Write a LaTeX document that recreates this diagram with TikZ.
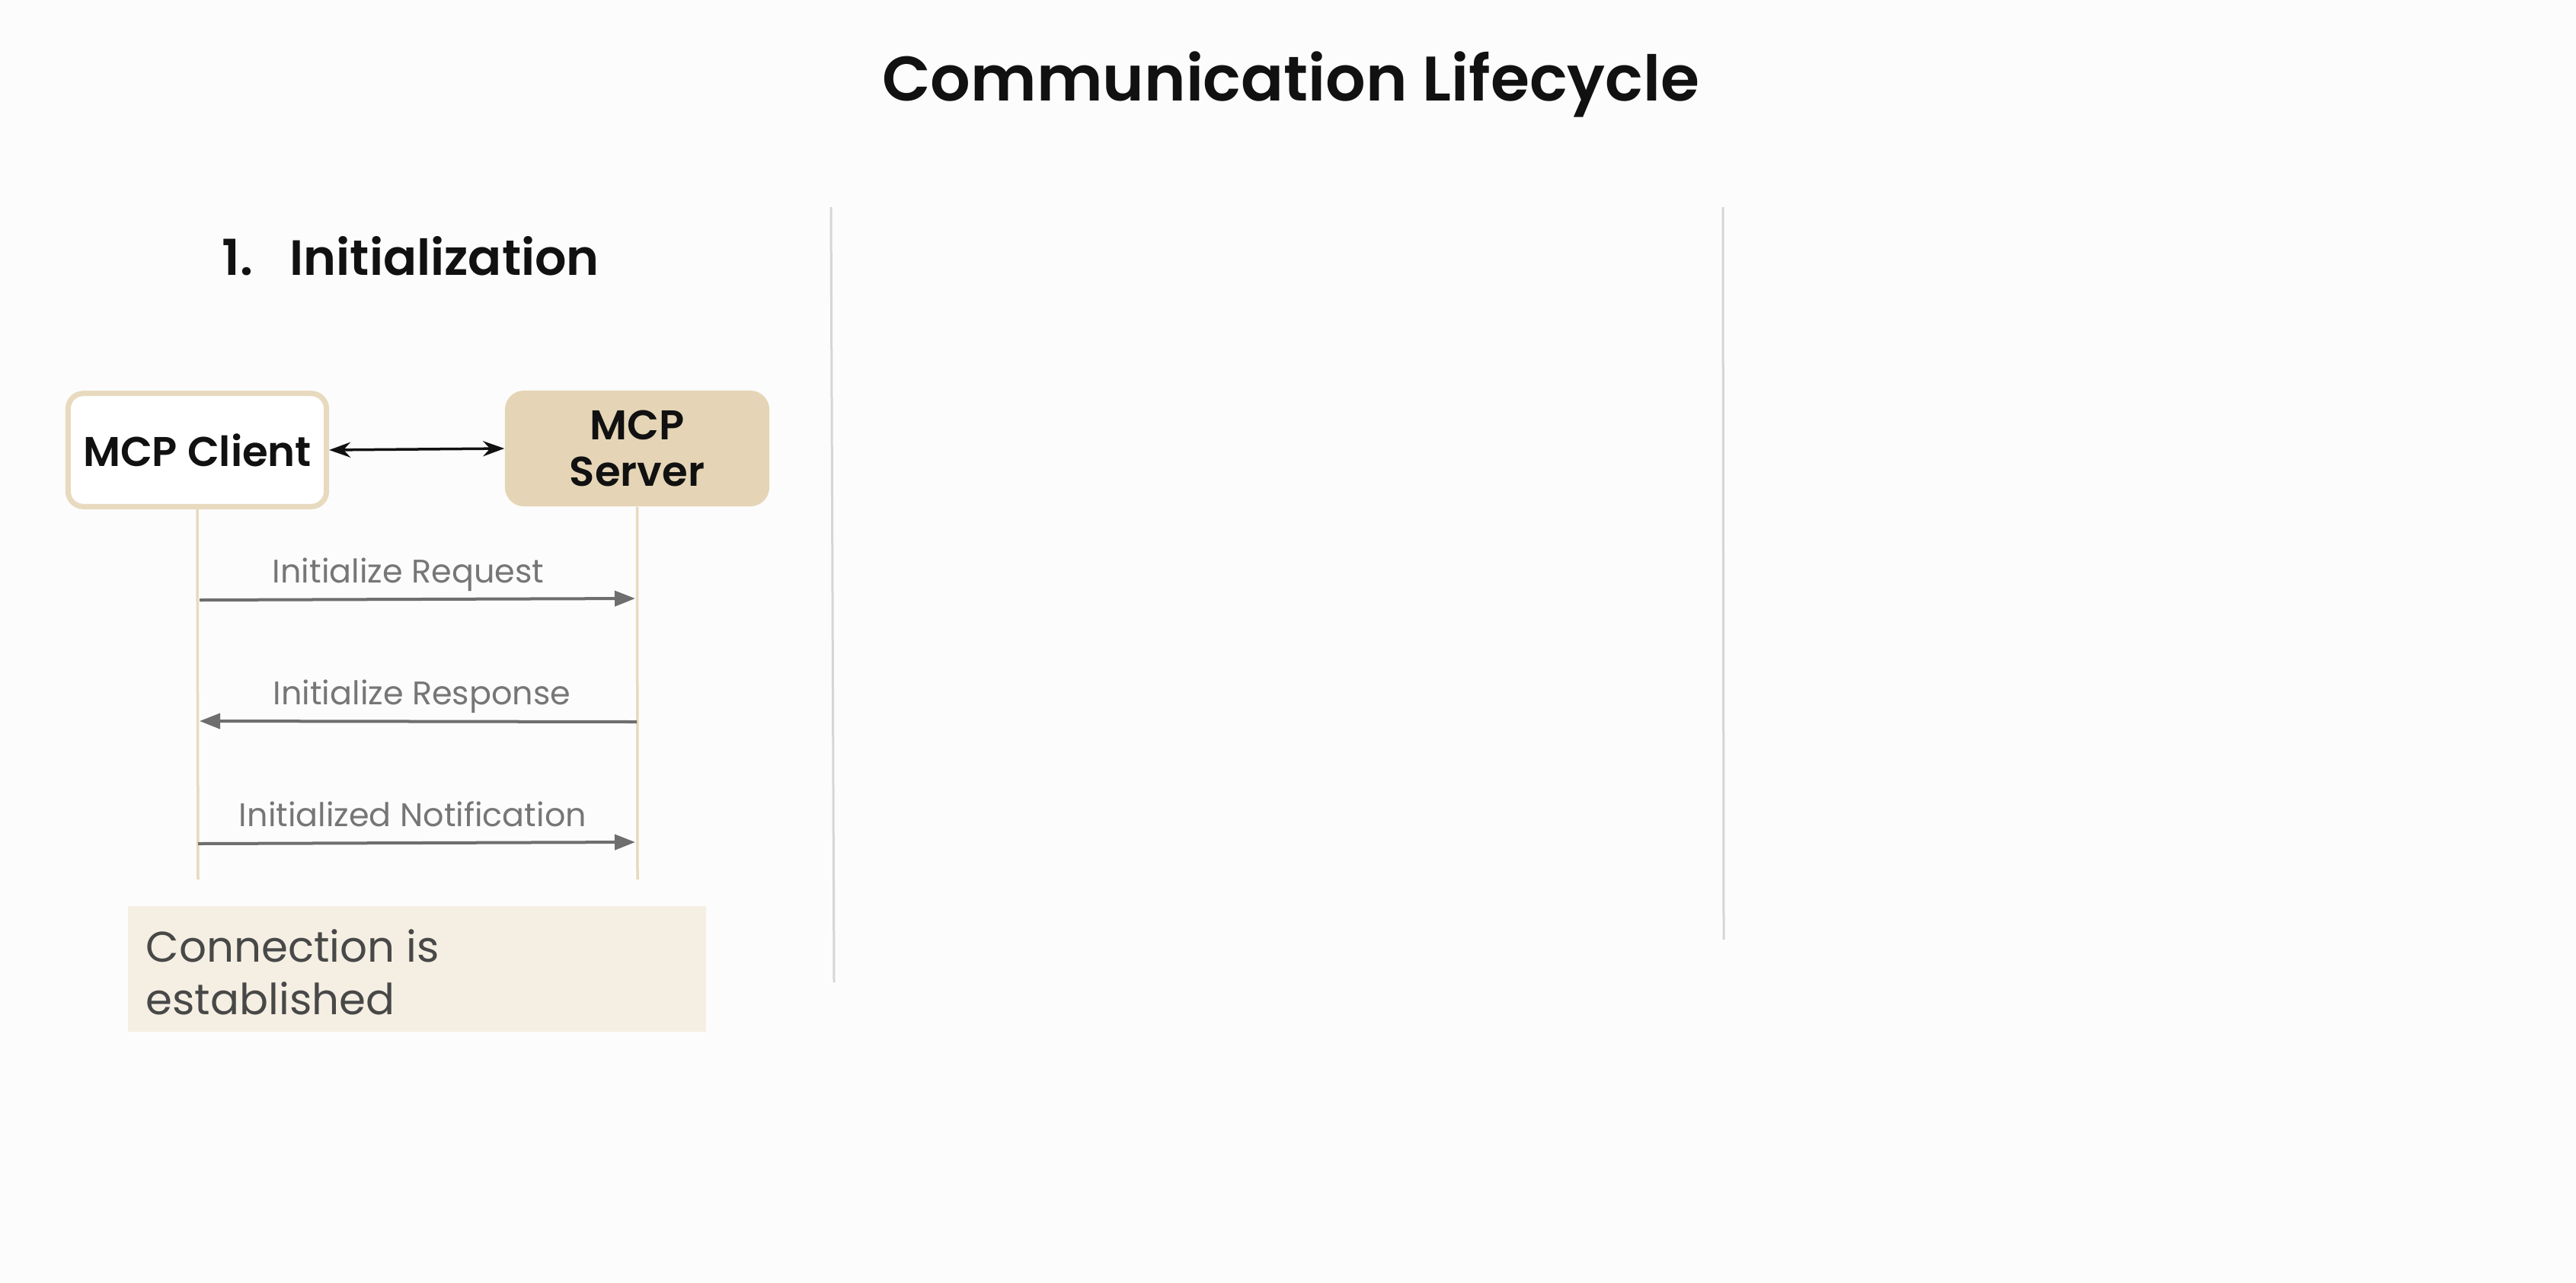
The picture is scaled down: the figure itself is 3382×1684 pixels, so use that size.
\documentclass[tikz,border=0pt]{standalone}
\usepackage{fontspec}
\setmainfont{Poppins}[BoldFont={Poppins SemiBold}]
\usetikzlibrary{arrows.meta}

\definecolor{bg}{RGB}{252,252,252}
\definecolor{tanline}{RGB}{232,218,190}
\definecolor{tanfill}{RGB}{229,213,182}
\definecolor{notefill}{RGB}{245,239,227}
\definecolor{msggray}{RGB}{110,110,110}
\definecolor{labelgray}{RGB}{118,118,118}
\definecolor{notetext}{RGB}{72,72,72}
\definecolor{dividergray}{RGB}{214,214,214}
\definecolor{inkblack}{RGB}{17,17,17}

\tikzset{
  clientbox/.style={draw=tanline, line width=0.07cm, fill=white, rounded corners=0.2cm,
    minimum width=3.39cm, minimum height=1.485cm, inner sep=0pt, text=inkblack,
    font=\fontsize{15.5}{18}\selectfont\bfseries},
  serverbox/.style={fill=tanfill, rounded corners=0.25cm, minimum width=3.47cm,
    minimum height=1.52cm, inner sep=0pt, align=center, text=inkblack,
    font=\fontsize{15.5}{17.5}\selectfont\bfseries},
  lifeline/.style={draw=tanline, line width=0.035cm},
  msg/.style={draw=msggray, line width=0.04cm, -{Triangle[length=0.27cm,width=0.2cm]}},
  msglabel/.style={anchor=base, text=labelgray, inner sep=0pt, font=\fontsize{12.2}{14}\selectfont},
  link/.style={draw=inkblack, line width=0.035cm, {Stealth[length=0.28cm,width=0.2cm]}-{Stealth[length=0.28cm,width=0.2cm]}},
  divider/.style={draw=dividergray, line width=0.03cm},
  notebox/.style={fill=notefill, inner sep=0pt},
}

\begin{document}
\begin{tikzpicture}[x=0.01cm, y=-0.01cm]
  % page background
  \fill[bg] (0,0) rectangle (3382,1684);
  \useasboundingbox (0,0) rectangle (3382,1684);

  % heading
  \node[anchor=base, inner sep=0pt, text=inkblack, font=\fontsize{23.5}{28}\selectfont\bfseries]
    (title) at (1695,132) {Communication Lifecycle};

  % column separators
  \coordinate (d1top) at (1091,272);
  \coordinate (d1bot) at (1095,1290);
  \coordinate (d2top) at (2262,272);
  \coordinate (d2bot) at (2263,1234);
  \draw[divider] (d1top) -- (d1bot);
  \draw[divider] (d2top) -- (d2bot);

  % step heading
  \node[anchor=base west, inner sep=0pt, text=inkblack, font=\fontsize{18.5}{22}\selectfont\bfseries]
    (step1) at (291,361) {\makebox[0.89cm][l]{1.}Initialization};

  % participants
  \node[clientbox] (client) at (259,591) {MCP Client};
  \node[serverbox] (server) at (836.5,589) {MCP\\Server};
  \draw[link] (client.east) -- (server.west);

  % lifelines
  \coordinate (clend) at (260,1155);
  \coordinate (svend) at (837,1155);
  \draw[lifeline] (client.south) -- (clend);
  \draw[lifeline] (server.south) -- (svend);

  % messages
  \coordinate (m1a) at (262,788);
  \coordinate (m1b) at (834,786);
  \coordinate (m2a) at (836,948);
  \coordinate (m2b) at (262,947);
  \coordinate (m3a) at (260,1108);
  \coordinate (m3b) at (834,1106);
  \draw[msg] (m1a) -- (m1b);
  \draw[msg] (m2a) -- (m2b);
  \draw[msg] (m3a) -- (m3b);
  \node[msglabel] (l1) at (536,765) {Initialize Request};
  \node[msglabel] (l2) at (554,925) {Initialize Response};
  \node[msglabel] (l3) at (542,1085) {Initialized Notification};

  % outcome note (node base sits on its last line)
  \path[notebox] (168,1190) rectangle (927,1355);
  \node[anchor=base west, inner sep=0pt, align=left, text=notetext,
        font=\fontsize{16}{19.35}\selectfont] (note) at (191,1332)
    {Connection is\\established};
\end{tikzpicture}
\end{document}
